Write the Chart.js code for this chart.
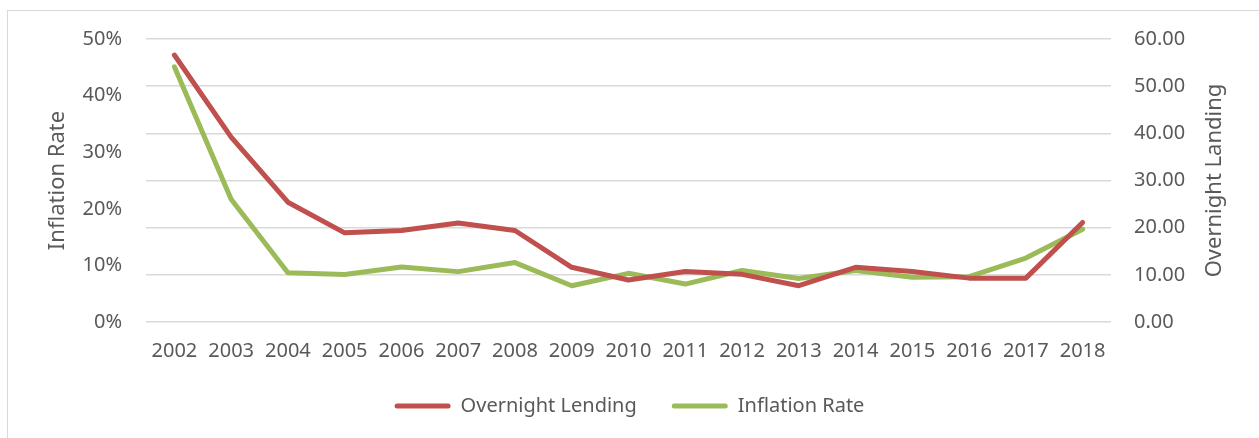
<!DOCTYPE html>
<html>
<head>
<meta charset="utf-8">
<script src="https://cdn.jsdelivr.net/npm/chart.js@4.4.1/dist/chart.umd.min.js"></script>
<style>
  html, body { margin: 0; padding: 0; background: #fff; overflow: hidden; }
  #frame {
    position: absolute; left: 7px; top: 10px; width: 1300px; height: 500px;
    border: 1px solid #d9d9d9; box-sizing: border-box;
  }
  #wrap { position: absolute; left: 0; top: 0; width: 1259px; height: 438px; }
</style>
</head>
<body>
<div id="frame"></div>
<div id="wrap"><canvas id="chart"></canvas></div>
<script>
  // Values
  var years = ['2002', '2003', '2004', '2005', '2006', '2007', '2008', '2009', '2010',
               '2011', '2012', '2013', '2014', '2015', '2016', '2017', '2018'];

  // Overnight lending rate (right axis)
  var overnightLending = [56.6, 39.2, 25.4, 18.9, 19.4, 21.0, 19.4, 11.6, 8.9,
                          10.7, 10.1, 7.7, 11.6, 10.7, 9.3, 9.3, 21.1];

  // Inflation rate as a fraction (left axis)
  var inflationRate = [0.451, 0.217, 0.087, 0.084, 0.097, 0.089, 0.105, 0.064, 0.086,
                       0.067, 0.091, 0.077, 0.091, 0.079, 0.080, 0.113, 0.164];

  var RED = '#c0504d';
  var GREEN = '#9bbb59';
  var TEXT = '#595959';
  var GRID = '#d9d9d9';
  var FONT = '"Noto Sans", "Open Sans", sans-serif';

  // Right-hand axis title reads bottom-to-top, as in the original
  var rightTitle = {
    id: 'rightTitle',
    afterDraw: function (chart) {
      var ctx = chart.ctx;
      ctx.save();
      ctx.translate(1215, (chart.chartArea.top + chart.chartArea.bottom) / 2);
      ctx.rotate(-Math.PI / 2);
      ctx.fillStyle = TEXT;
      ctx.font = '22px ' + FONT;
      ctx.textAlign = 'center';
      ctx.textBaseline = 'middle';
      ctx.fillText('Overnight Landing', 0, 0);
      ctx.restore();
    }
  };

  new Chart(document.getElementById('chart'), {
    type: 'line',
    data: {
      labels: years,
      datasets: [
        {
          label: 'Overnight Lending',
          data: overnightLending,
          yAxisID: 'y1',
          borderColor: RED,
          backgroundColor: RED,
          borderWidth: 5,
          pointRadius: 0,
          tension: 0,
          borderJoinStyle: 'round',
          borderCapStyle: 'round'
        },
        {
          label: 'Inflation Rate',
          data: inflationRate,
          yAxisID: 'y',
          borderColor: GREEN,
          backgroundColor: GREEN,
          borderWidth: 5,
          pointRadius: 0,
          tension: 0,
          borderJoinStyle: 'round',
          borderCapStyle: 'round'
        }
      ]
    },
    options: {
      responsive: true,
      maintainAspectRatio: false,
      animation: false,
      layout: { padding: { top: 39, left: 0, right: 0, bottom: 12 } },
      plugins: {
        tooltip: { enabled: false },
        legend: {
          position: 'bottom',
          labels: {
            color: TEXT,
            font: { family: FONT, size: 20 },
            boxWidth: 56,
            boxHeight: 5,
            padding: 35,
            useBorderRadius: true,
            borderRadius: 2.5,
            generateLabels: function (chart) {
              return Chart.defaults.plugins.legend.labels.generateLabels(chart).map(function (item) {
                item.lineWidth = 0;
                item.fillStyle = item.strokeStyle;
                return item;
              });
            }
          }
        }
      },
      scales: {
        x: {
          offset: true,
          grid: { display: false, drawTicks: false, offset: true },
          border: { display: false },
          ticks: { color: TEXT, font: { family: FONT, size: 20 }, padding: 17, maxRotation: 0, autoSkip: false },
          afterFit: function (scale) { scale.height = 39; }
        },
        y: {
          position: 'left',
          min: 0,
          max: 0.5,
          grid: { display: false, drawTicks: false },
          border: { display: false },
          ticks: {
            stepSize: 0.1,
            color: TEXT,
            font: { family: FONT, size: 20 },
            padding: 24,
            callback: function (v) { return Math.round(v * 100) + '%'; }
          },
          title: {
            display: true,
            text: 'Inflation Rate',
            color: TEXT,
            font: { family: FONT, size: 22 },
            padding: { top: 45, bottom: 0 }
          },
          afterFit: function (scale) { scale.width = 146; }
        },
        y1: {
          position: 'right',
          min: 0,
          max: 60,
          grid: { color: GRID, lineWidth: 1.5, drawTicks: false },
          border: { display: false },
          ticks: {
            stepSize: 10,
            color: TEXT,
            font: { family: FONT, size: 20 },
            padding: 23,
            callback: function (v) { return v.toFixed(2); }
          },
          afterFit: function (scale) { scale.width = 148; }
        }
      }
    },
    plugins: [rightTitle]
  });
</script>
</body>
</html>
